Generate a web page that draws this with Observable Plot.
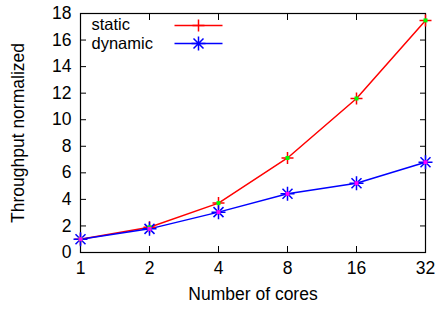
<!DOCTYPE html>
<html>
<head>
<meta charset="utf-8">
<script src="https://cdn.jsdelivr.net/npm/d3@7"></script>
<script src="https://cdn.jsdelivr.net/npm/@observablehq/plot@0.6"></script>
<style>
  html, body { margin: 0; padding: 0; background: #fff; }
  #chart svg { display: block; }
</style>
</head>
<body>
<div id="chart"></div>
<script>
const cores = [1, 2, 4, 8, 16, 32];
const staticVals = [1, 1.9, 3.72, 7.12, 11.6, 17.48];
const dynamicVals = [1, 1.78, 3.04, 4.42, 5.22, 6.8];
const yTicks = [0, 2, 4, 6, 8, 10, 12, 14, 16, 18];
const seriesNames = ["static", "dynamic"];
const seriesColors = ["#ff0000", "#0000ff"];
const centerColors = ["#00ff00", "#ff00ff"];

const staticData = cores.map((c, i) => ({cores: c, value: staticVals[i]}));
const dynamicData = cores.map((c, i) => ({cores: c, value: dynamicVals[i]}));

const plusSym = {draw(ctx) { ctx.moveTo(-6, 0); ctx.lineTo(6, 0); ctx.moveTo(0, -6); ctx.lineTo(0, 6); }};
const starSym = {draw(ctx) {
  ctx.moveTo(-7, 0); ctx.lineTo(7, 0); ctx.moveTo(0, -7); ctx.lineTo(0, 7);
  ctx.moveTo(-5, -5); ctx.lineTo(5, 5); ctx.moveTo(-5, 5); ctx.lineTo(5, -5);
}};
const sqSym = {draw(ctx) { ctx.rect(-2, -2, 4, 4); }};
const legLine = {draw(ctx) { ctx.moveTo(-24, 0); ctx.lineTo(24, 0); }};
const legendData = seriesNames.map((s, i) => ({name: s, i}));

const font = "Liberation Sans, Arial, Helvetica, sans-serif";
const FS = 17.5;
const LFS = 16.5;

const chart = Plot.plot({
  width: 439,
  height: 310,
  marginLeft: 80,
  marginRight: 14,
  marginTop: 13,
  marginBottom: 58,
  style: {fontFamily: font, fontSize: FS + "px", background: "#fff", color: "#000"},
  x: {type: "log", base: 2, domain: [1, 32]},
  y: {domain: [0, 18]},
  marks: [
    Plot.frame({stroke: "#000", strokeWidth: 1.2}),
    Plot.axisY({ticks: yTicks, tickSize: 0, tickPadding: 9, label: "Throughput normalized", labelAnchor: "center", labelArrow: "none", labelOffset: 69, fontSize: FS}),
    Plot.axisY({ticks: yTicks, tickSize: -6, text: null, label: null}),
    Plot.axisY({ticks: yTicks, anchor: "right", tickSize: -6, text: null, label: null}),
    Plot.axisX({ticks: cores, tickFormat: d => String(d), tickSize: 0, tickPadding: 9, label: "Number of cores", labelAnchor: "center", labelArrow: "none", labelOffset: 47, fontSize: FS}),
    Plot.axisX({ticks: cores, tickSize: -6, text: null, label: null}),
    Plot.axisX({ticks: cores, anchor: "top", tickSize: -6, text: null, label: null}),
    Plot.line(staticData, {x: "cores", y: "value", stroke: seriesColors[0], strokeWidth: 1.5}),
    Plot.line(dynamicData, {x: "cores", y: "value", stroke: seriesColors[1], strokeWidth: 1.5}),
    Plot.dot(staticData, {x: "cores", y: "value", symbol: plusSym, stroke: seriesColors[0], strokeWidth: 1.5, fill: "none"}),
    Plot.dot(dynamicData, {x: "cores", y: "value", symbol: starSym, stroke: seriesColors[1], strokeWidth: 1.5, fill: "none"}),
    Plot.dot(staticData, {x: "cores", y: "value", symbol: sqSym, fill: centerColors[0], stroke: "none"}),
    Plot.dot(dynamicData, {x: "cores", y: "value", symbol: sqSym, fill: centerColors[1], stroke: "none"}),
    // legend
    Plot.text(legendData.slice(0, 1), {text: "name", frameAnchor: "top-left", dx: 11, dy: 11.5, textAnchor: "start", lineAnchor: "middle", fontSize: LFS}),
    Plot.text(legendData.slice(1, 2), {text: "name", frameAnchor: "top-left", dx: 11, dy: 30, textAnchor: "start", lineAnchor: "middle", fontSize: LFS}),
    Plot.dot(legendData.slice(0, 1), {frameAnchor: "top-left", dx: 118, dy: 12, symbol: legLine, stroke: seriesColors[0], strokeWidth: 1.5}),
    Plot.dot(legendData.slice(0, 1), {frameAnchor: "top-left", dx: 118, dy: 12, symbol: plusSym, stroke: seriesColors[0], strokeWidth: 1.5}),
    Plot.dot(legendData.slice(1, 2), {frameAnchor: "top-left", dx: 118, dy: 30, symbol: legLine, stroke: seriesColors[1], strokeWidth: 1.5}),
    Plot.dot(legendData.slice(1, 2), {frameAnchor: "top-left", dx: 118, dy: 30, symbol: starSym, stroke: seriesColors[1], strokeWidth: 1.5}),
  ]
});
document.getElementById("chart").appendChild(chart);
</script>
</body>
</html>
